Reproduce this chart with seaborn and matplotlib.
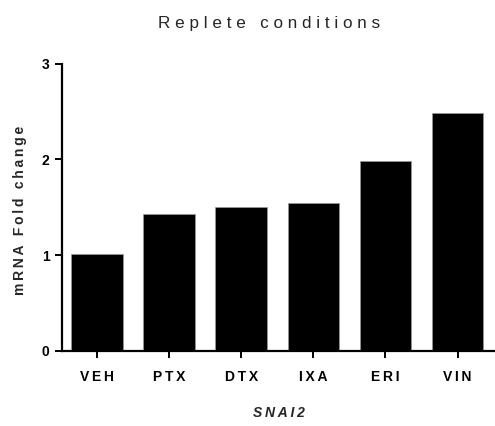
import matplotlib
matplotlib.use("Agg")
import matplotlib.pyplot as plt
import seaborn as sns
import pandas as pd

# Treatments and SNAI2 mRNA fold change under replete conditions
treatments = ["VEH", "PTX", "DTX", "IXA", "ERI", "VIN"]
fold_change = [1.01, 1.43, 1.50, 1.54, 1.98, 2.48]
y_ticks = [0, 1, 2, 3]

title_text = "Replete conditions"
y_label = "mRNA Fold change"
x_label = "SNAI2"

THIN = "\u2009"


def spaced(text, gap=THIN):
    """Spread letters apart to mimic tracked lettering."""
    return gap.join(text)


sns.set_theme(style="ticks")
plt.rcParams["font.family"] = ["Liberation Sans", "DejaVu Sans"]

df = pd.DataFrame({"treatment": treatments, "fold": fold_change})

fig = plt.figure(figsize=(4.95, 4.26), dpi=100)
ax = fig.add_axes([62 / 495, 75 / 426, 433 / 495, 287.5 / 426])

sns.barplot(data=df, x="treatment", y="fold", color="black", width=0.72,
            edgecolor="#9a9a9a", linewidth=0.5, saturation=1, ax=ax)

ax.set_xlim(-0.49, 5.52)
ax.set_ylim(0, 3)
ax.set_yticks(y_ticks)
ax.set_yticklabels([str(t) for t in y_ticks], fontsize=10, fontweight="bold")
ax.set_xticks(range(len(treatments)))
ax.set_xticklabels([spaced(t) for t in treatments], fontsize=10, fontweight="bold")

for side in ("top", "right"):
    ax.spines[side].set_visible(False)
for side in ("left", "bottom"):
    ax.spines[side].set_linewidth(1.6)
    ax.spines[side].set_color("black")

ax.tick_params(axis="y", length=5, width=1.4, pad=4, colors="black")
ax.tick_params(axis="x", length=5, width=1.4, pad=9, colors="black")

ax.set_xlabel("")
ax.set_ylabel(spaced(y_label), fontsize=10, fontweight="bold")
ax.yaxis.set_label_coords(-0.081, 0.49)

ax.text(0.5, -0.216, spaced(x_label), transform=ax.transAxes, ha="center",
        va="center", fontsize=10, fontweight="bold", style="italic")

ax.text(0.478, 1.1235, spaced(title_text, " "),
        transform=ax.transAxes, ha="center", va="baseline", fontsize=12.3)

fig.savefig("out.png", dpi=100)
